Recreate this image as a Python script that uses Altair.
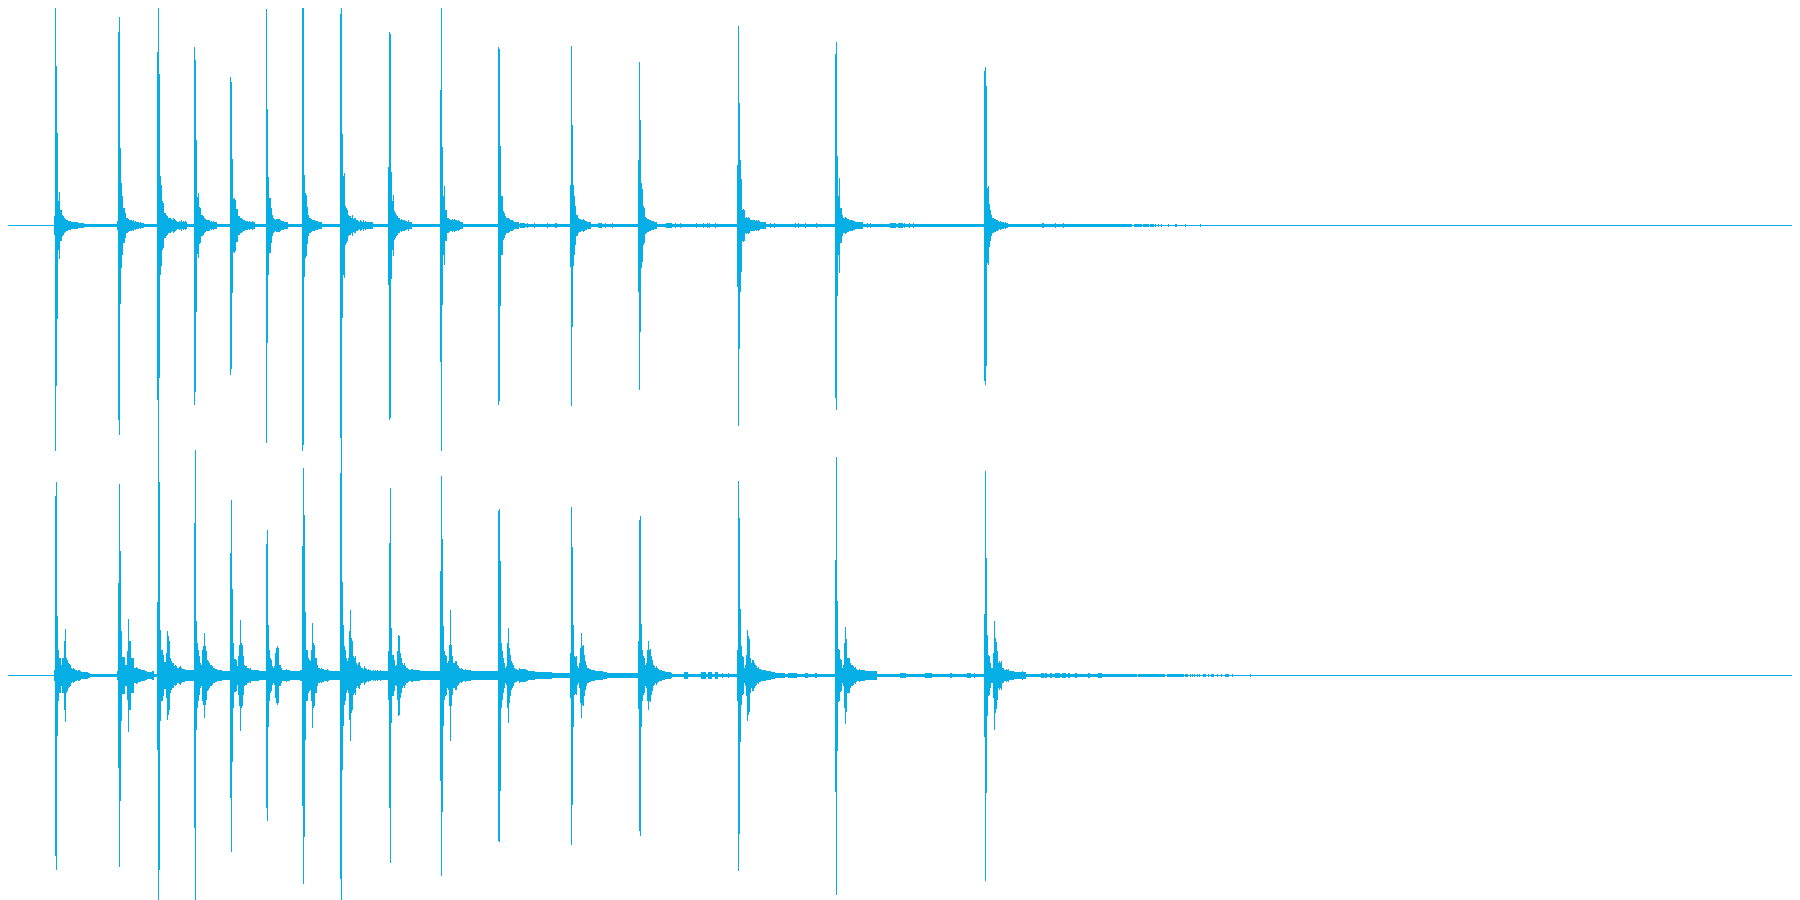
import altair as alt
import pandas as pd

COLOR = "#06AEE6"
PAGE_MARGIN = 8
RIGHT_PX = 1792
BOTTOM_PX = 900

# Channel 1 (upper waveform), amplitudes in pixels of a 225 px full scale
c1_center = 225
c1_starts = [54, 117, 157, 194, 230, 266, 302, 340, 388, 440, 498, 570, 638, 737, 835, 984]
c1_head_up = [
    [9, 225, 159, 92], [4, 193, 208, 77], [173, 225, 151], [178, 165, 85],
    [148, 143, 66], [216, 116, 48], [225, 218, 50], [211, 225, 91],
    [58, 193, 191], [135, 225, 78], [178, 176, 79], [40, 179, 100],
    [65, 163, 105], [60, 199, 122, 65], [171, 183, 69], [154, 158, 139],
]
c1_head_dn = [
    [9, 225, 160, 93], [4, 194, 209, 78], [174, 225, 152], [179, 166, 86],
    [149, 143, 67], [217, 117, 49], [225, 219, 51], [212, 225, 92],
    [59, 194, 192], [136, 225, 79], [179, 175, 80], [41, 180, 101],
    [66, 164, 106], [61, 200, 123, 66], [172, 184, 70], [155, 159, 140],
]
c1_tails = [
    [24, 33, 15, 15, 10, 9, 7, 6, 5, 5, 4, 4, 4, 3, 3, 3, 3, 3, 3, 3, 2, 2, 2, 2, 2, 2],
    [42, 29, 17, 17, 12, 7, 7, 6, 5, 5, 5, 4, 5, 3, 4, 3, 3, 3, 2, 3, 2, 2, 2],
    [49, 40, 24, 22, 12, 12, 10, 9, 7, 7, 7, 6, 5, 7, 6, 5, 4, 3, 3, 4, 3, 5, 3, 4, 3, 4, 3],
    [28, 32, 18, 17, 10, 10, 9, 7, 6, 5, 5, 5, 5, 3, 4, 3, 4, 3, 3, 3],
    [26, 27, 25, 16, 16, 9, 9, 7, 7, 6, 5, 5, 4, 4, 4, 3, 4, 3, 3, 4, 3, 3],
    [27, 27, 17, 10, 7, 6, 5, 6, 6, 6, 6, 5, 4, 4, 4, 3, 3, 3, 3],
    [32, 30, 18, 10, 7, 7, 6, 5, 5, 5, 4, 4, 4, 3, 3, 3, 3],
    [49, 52, 19, 17, 15, 10, 9, 9, 7, 10, 6, 7, 7, 5, 5, 4, 3, 5, 4, 3, 5, 3, 4, 3, 3, 3, 3, 3, 3, 3],
    [53, 24, 30, 14, 12, 10, 9, 7, 7, 5, 6, 5, 5, 5, 4, 4, 3, 5, 3, 3, 3],
    [29, 39, 15, 15, 7, 7, 6, 5, 5, 6, 5, 6, 5, 5, 4, 5, 4, 3, 3, 3],
    [29, 29, 14, 12, 9, 7, 7, 7, 6, 5, 5, 5, 4, 3, 3, 3, 3, 3],
    [40, 29, 19, 10, 10, 7, 6, 6, 5, 5, 6, 5, 4, 4, 3, 3, 3, 3],
    [42, 36, 19, 17, 8, 7, 6, 6, 5, 5, 4, 4, 4, 3, 3, 3],
    [46, 15, 16, 15, 7, 8, 7, 8, 7, 5, 5, 5, 5, 5, 4, 5, 4, 5, 4, 3, 3, 3, 3, 3, 3],
    [29, 47, 17, 17, 10, 7, 7, 8, 7, 6, 6, 5, 5, 5, 5, 4, 4, 3, 3, 3, 3, 3, 3, 3, 3],
    [37, 39, 21, 15, 10, 7, 7, 6, 6, 5, 5, 4, 3, 4, 3, 3, 3, 2, 3, 2, 2],
]
c1_base_from = [0, 54, 1132]
c1_base_to = [54, 1132, 1800]
c1_base_amp = [0, 1, 0]
c1_bump_from = [520, 527, 534, 547, 555, 598, 605, 612, 666, 675, 680, 696, 703, 707, 709, 715,
                770, 774, 795, 798, 805, 816, 867, 870, 890, 898, 904, 909, 913, 1042, 1055, 1063,
                1134, 1143, 1150, 1155, 1158, 1161, 1168, 1175, 1185, 1200]
c1_bump_to = [525, 528, 535, 548, 557, 602, 606, 613, 672, 676, 681, 697, 704, 708, 710, 716,
              771, 775, 796, 799, 806, 817, 868, 871, 896, 903, 905, 910, 914, 1044, 1056, 1064,
              1142, 1149, 1154, 1156, 1159, 1162, 1169, 1177, 1186, 1201]
c1_bump_amp = [2] * 32 + [1] * 10

# Channel 2 (lower waveform)
c2_center = 675
c2_starts = c1_starts
c2_head_up = [
    [5, 179, 193, 59], [4, 92, 191, 124, 44], [73, 225, 193], [152, 225, 54],
    [122, 175, 86], [131, 145, 50], [129, 207, 160, 63], [202, 225, 93],
    [24, 132, 187], [104, 199, 136, 49], [164, 166, 114], [22, 168, 128, 50],
    [34, 155, 159, 51], [25, 194, 157, 66], [115, 218, 74, 26], [61, 204, 117, 40],
]
c2_head_dn = [
    [5, 180, 194, 60], [4, 92, 191, 125, 45], [74, 225, 194], [152, 225, 54],
    [122, 176, 86], [132, 145, 51], [130, 208, 161, 64], [203, 225, 94],
    [24, 132, 187], [105, 200, 136, 50], [165, 166, 115], [22, 169, 129, 51],
    [33, 155, 160, 51], [25, 195, 158, 66], [116, 219, 75, 26], [61, 205, 117, 40],
]
c2_tails = [
    [25, 17, 17, 10, 17, 17, 34, 46, 17, 15, 12, 11, 10, 7, 6, 7, 6, 5, 5, 4, 5, 5, 4, 3, 3, 3, 3, 3, 3, 3, 2, 2],
    [18, 18, 18, 10, 10, 24, 56, 34, 34, 17, 17, 17, 7, 7, 8, 7, 6, 6, 6, 5, 5, 5, 5, 4, 4, 3, 3, 3, 3, 3, 4, 4],
    [45, 25, 25, 20, 13, 13, 22, 44, 39, 34, 17, 14, 12, 12, 9, 10, 9, 7, 7, 8, 9, 7, 6, 6, 6, 5, 5, 5, 5, 5, 5, 5, 5, 5],
    [32, 25, 19, 12, 10, 25, 29, 42, 29, 24, 15, 14, 12, 10, 10, 9, 7, 7, 6, 6, 5, 5, 5, 5, 5, 4, 4, 4, 4, 4, 4, 4, 4],
    [32, 16, 16, 15, 9, 19, 30, 55, 32, 30, 19, 10, 9, 9, 7, 7, 6, 7, 5, 5, 5, 5, 5, 5, 5, 5, 4, 4, 4, 4, 4, 4, 4],
    [25, 17, 15, 9, 7, 9, 22, 27, 29, 27, 10, 10, 7, 5, 5, 5, 5, 6, 5, 5, 5, 4, 4, 4, 4, 4, 4, 4, 4, 4, 4, 5, 5],
    [25, 25, 17, 15, 14, 25, 52, 32, 30, 17, 17, 10, 7, 7, 6, 7, 6, 6, 5, 5, 5, 6, 5, 4, 4, 4, 4, 4, 4, 4, 4, 4, 4, 4],
    [50, 29, 25, 17, 14, 17, 44, 65, 37, 34, 19, 17, 19, 12, 10, 12, 13, 9, 7, 7, 6, 9, 7, 6, 5, 6, 5, 5, 4, 4, 5, 4, 5, 4, 5, 4, 4, 5, 4, 4, 4, 4, 4, 4, 4],
    [47, 20, 20, 15, 9, 10, 24, 40, 39, 22, 17, 12, 10, 12, 9, 7, 7, 6, 5, 5, 6, 6, 5, 5, 5, 5, 5, 5, 5, 4, 4, 4, 4, 4, 4, 4, 4, 4, 4, 4, 4, 4, 4, 4, 4, 4, 4, 4, 4],
    [24, 20, 19, 12, 14, 30, 65, 30, 19, 12, 12, 14, 14, 10, 9, 7, 6, 7, 6, 5, 5, 6, 5, 5, 5, 5, 5, 4, 4, 4, 4, 4, 4, 4, 4, 4, 4, 4, 4, 4, 4, 4, 4, 4, 4, 4, 4, 4, 4, 4, 4, 4, 4, 4],
    [32, 24, 17, 12, 7, 9, 32, 47, 27, 20, 14, 12, 10, 7, 6, 6, 5, 5, 7, 6, 5, 5, 5, 5, 5, 5, 5, 4, 4, 4, 4, 4, 4, 4],
    [19, 18, 19, 9, 7, 12, 27, 42, 29, 30, 20, 14, 10, 7, 7, 6, 6, 5, 5, 5, 5, 4, 4, 4, 4, 4, 4, 4, 4, 3, 3, 3, 3],
    [25, 19, 17, 10, 12, 25, 34, 25, 26, 19, 15, 10, 9, 7, 9, 7, 6, 5, 5, 5, 4, 4, 4, 3, 3, 3, 3, 3, 3],
    [29, 19, 18, 7, 10, 20, 45, 39, 36, 17, 12, 15, 15, 12, 10, 9, 7, 8, 6, 6, 5, 5, 5, 5, 5, 4, 4, 4, 4, 4, 3, 3, 3, 3],
    [25, 16, 15, 7, 10, 32, 48, 36, 17, 17, 17, 12, 10, 10, 9, 7, 8, 6, 5, 5, 6, 5, 5, 5, 5, 5, 4, 4, 4, 4, 4, 4, 4, 4, 4, 4, 4, 4],
    [20, 19, 12, 7, 7, 22, 54, 37, 33, 24, 12, 14, 12, 14, 7, 7, 5, 5, 6, 5, 6, 4, 4, 4, 4, 4, 3, 3, 3, 3, 3, 3, 3, 3, 4, 3, 3, 3],
]
c2_base_from = [0, 54, 158, 672, 1137]
c2_base_to = [54, 158, 672, 1137, 1800]
c2_base_amp = [0, 1, 2, 1, 0]
c2_bump_from = [520, 530, 684, 701, 708, 715, 722, 728, 763, 788, 805, 815, 900, 925, 950, 967, 974, 1041, 1045, 1050, 1055, 1062, 1068, 1075, 1088, 1098,
                1138, 1157, 1167, 1168, 1185, 1190, 1192, 1194, 1197, 1199, 1203, 1208, 1211, 1217, 1221, 1225, 1232, 1250]
c2_bump_to = [526, 552, 688, 706, 712, 718, 723, 729, 785, 797, 808, 817, 906, 932, 952, 971, 975, 1044, 1047, 1052, 1060, 1066, 1070, 1077, 1090, 1102,
              1157, 1165, 1168, 1184, 1188, 1191, 1193, 1195, 1198, 1200, 1206, 1209, 1214, 1218, 1222, 1229, 1233, 1251]
c2_bump_amp = [6, 3, 3, 3, 3, 3, 2, 2, 2, 2, 2, 2, 2, 2, 2, 2, 2, 2, 2, 2, 2, 2, 2, 2, 2, 2,
               1, 1, 1, 1, 1, 1, 1, 1, 1, 1, 1, 1, 1, 1, 1, 1, 1, 1]

rows = []


def add(x0, x1, up, dn, center):
    rows.append({"x0": x0, "x1": x1, "y0": center - up, "y1": center + 1 + dn})


def add_channel(center, starts, head_up, head_dn, tails, b_from, b_to, b_amp, bumps):
    for a, b, amp in zip(b_from, b_to, b_amp):
        add(a, b, amp, amp, center)
    for a, b, amp in bumps:
        add(a, b, amp, amp, center)
    for s, up, dn, tail in zip(starts, head_up, head_dn, tails):
        for i, (u, d) in enumerate(zip(up, dn)):
            add(s + i, s + i + 1, u, d, center)
        first = s + len(up)
        for i, t in enumerate(tail):
            add(first + i, first + i + 1, t, t, center)


add_channel(c1_center, c1_starts, c1_head_up, c1_head_dn, c1_tails,
            c1_base_from, c1_base_to, c1_base_amp,
            list(zip(c1_bump_from, c1_bump_to, c1_bump_amp)))
add_channel(c2_center, c2_starts, c2_head_up, c2_head_dn, c2_tails,
            c2_base_from, c2_base_to, c2_base_amp,
            list(zip(c2_bump_from, c2_bump_to, c2_bump_amp)))

df = pd.DataFrame(rows)

chart = (
    alt.Chart(df)
    .mark_rect(color=COLOR, clip=True)
    .encode(
        x=alt.X("x0:Q", axis=None, scale=alt.Scale(domain=[PAGE_MARGIN, RIGHT_PX], nice=False, zero=False)),
        x2="x1:Q",
        y=alt.Y("y0:Q", axis=None, scale=alt.Scale(domain=[PAGE_MARGIN, BOTTOM_PX], range=[0, BOTTOM_PX - PAGE_MARGIN], nice=False, zero=False)),
        y2="y1:Q",
    )
    .properties(width=RIGHT_PX - PAGE_MARGIN, height=BOTTOM_PX - PAGE_MARGIN, padding=0,
                autosize=alt.AutoSizeParams(type="none"), background="white")
    .configure_view(stroke=None)
)

chart.save("out.html", embed_options={"renderer": "svg", "actions": False})
